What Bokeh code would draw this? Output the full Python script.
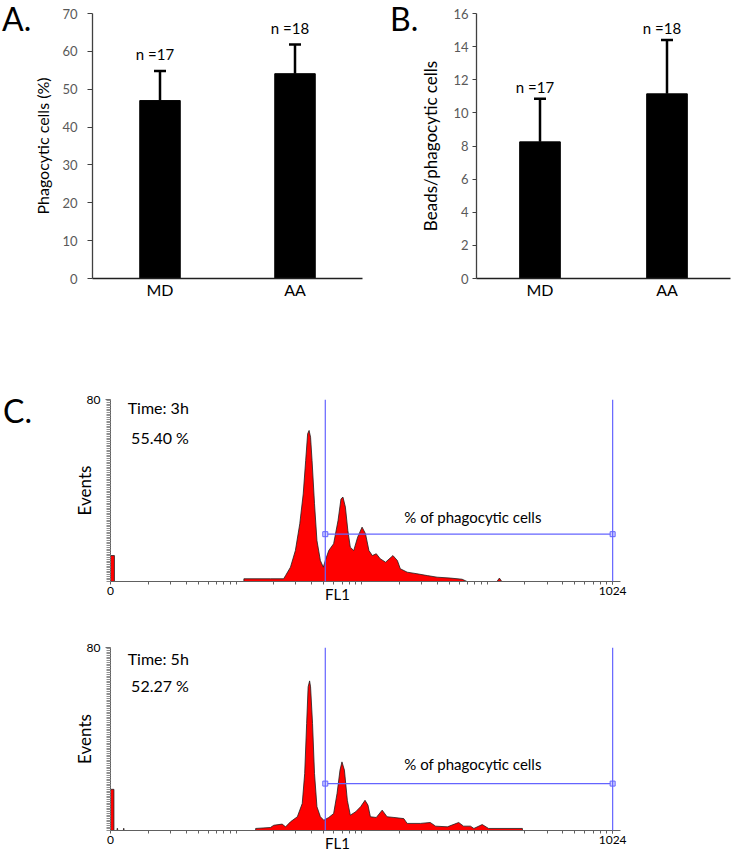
from bokeh.plotting import figure
from bokeh.models import ColumnDataSource, FactorRange, Range1d, FixedTicker, Span, LinearAxis, Div
from bokeh.layouts import column, row
from bokeh.embed import file_html
from bokeh.resources import INLINE
from bokeh.core.properties import value
import math

FONT = "Lato"
BLUE = "#6464ff"

# ---------------- data ----------------
groups = ["MD", "AA"]
n_labels = ["n =17", "n =18"]
phago_mean = [47.0, 54.1]
phago_sd = [7.8, 7.7]
beads_mean = [8.25, 11.15]
beads_sd = [2.6, 3.25]

# flow cytometry histograms (FL1 channel, events)
h1_ch = [0, 0, 8, 8, 272, 272, 326, 353, 357, 367, 377, 386, 393, 398, 402, 405, 408, 411, 416, 421,
         428, 434, 438, 445, 455, 464, 470, 474, 479, 484, 489, 496, 504, 513, 520, 527, 534, 542, 550, 561,
         576, 585, 591, 605, 625, 646, 666, 693, 717, 727, 788, 793, 798, 1024]
h1_ev = [0, 11.4, 11.4, 0, 0, 1.2, 1.2, 1.2, 2.6, 6.3, 13.6, 25.4, 38.5, 53.2, 64.9, 66.4, 63.4, 53.2, 34.2, 18,
         9.2, 6.3, 9.2, 13.6, 16.6, 26.8, 36.3, 37.1, 32.7, 22.4, 15.1, 13.6, 19.5, 23.9, 21, 13.6, 11.4, 12.2, 10, 8.5,
         11.4, 9.2, 5.6, 4.1, 3.4, 2.6, 1.9, 1.5, 1, 0, 0, 1.5, 0, 0]
h2_ch = [0, 0, 7, 7, 13, 14, 15, 26, 27, 28, 296, 296, 326, 333, 350, 357, 367, 381, 391, 396,
         400, 403, 406, 408, 412, 416, 421, 428, 435, 445, 455, 462, 468, 472, 477, 483, 489, 500, 510, 519,
         525, 530, 542, 554, 564, 578, 598, 605, 632, 652, 663, 687, 710, 720, 734, 741, 758, 771, 840, 840, 1024]
h2_ev = [0, 18, 18, 0, 0, 1, 0, 0, 1, 0, 0, 0.9, 1.3, 2.3, 2.8, 1.6, 3.8, 6, 11.8, 24.9,
         46.8, 62.8, 65.4, 62.8, 46.8, 24.9, 10.4, 6, 4.5, 5.7, 7.4, 16.2, 26.4, 30, 26.4, 13.2, 6.7, 8.2, 10.4, 13.2,
         11.1, 6, 5.7, 8.9, 6, 5.7, 5.2, 3.1, 3.1, 3.5, 1.9, 1.6, 3.5, 1.9, 1.9, 0.9, 2.6, 0.9, 0.9, 0, 0]
gate_lo = 438
gate_hi = 1024
gate_y = [20.8, 20.5]
time_txt = ["Time: 3h", "Time: 5h"]
pct_txt = ["55.40 %", "52.27 %"]
gate_txt = "% of phagocytic cells"
x_max = 1024
y_max_events = 80


def style_common(p):
    p.outline_line_color = None
    p.xgrid.visible = False
    p.ygrid.visible = False
    p.background_fill_color = "white"
    p.border_fill_color = "white"


def letter_div(width, height, letter, left, top):
    html = ('<div style="margin-left:%dpx;margin-top:%dpx;font-family:Lato;font-size:32px;'
            'line-height:1.2;color:black;white-space:nowrap">%s</div>' % (left, top, letter))
    return Div(text=html, width=width, height=height, margin=(0, 0, 0, 0))


def bar_panel(width, height, mb, ymax, ystep, mean, sd, ylabel,
              bar_w, ylab_fs, ylab_standoff, tick_standoff, tick_out, n_off):
    p = figure(width=width, height=height, x_range=FactorRange(*groups),
               y_range=Range1d(0, ymax), output_backend="svg", toolbar_location=None,
               min_border_left=mb[0], min_border_right=mb[1], min_border_top=mb[2],
               min_border_bottom=mb[3])
    style_common(p)
    up = [m + s for m, s in zip(mean, sd)]
    src = ColumnDataSource(dict(g=groups, m=mean, up=up, n=n_labels))
    p.vbar(x="g", top="m", width=bar_w, source=src, fill_color="black", line_color="black")
    p.segment(x0="g", y0="m", x1="g", y1="up", source=src, line_color="black", line_width=2.5)
    p.scatter(x="g", y="up", source=src, marker="dash", size=12, line_color="black", line_width=2.5)
    p.text(x="g", y="up", text="n", source=src, x_offset=-5, y_offset=n_off,
           text_align="center", text_baseline="middle",
           text_font=value(FONT), text_font_size="15px", text_color="black")
    xa = p.xaxis[0]
    xa.axis_line_color = "#202020"
    xa.axis_line_width = 1.3
    xa.major_tick_line_color = None
    xa.major_tick_out = 0
    xa.major_tick_in = 0
    xa.minor_tick_line_color = None
    xa.major_label_text_font = FONT
    xa.major_label_text_font_size = "16px"
    xa.major_label_text_color = "black"
    xa.major_label_standoff = 1
    ya = p.yaxis[0]
    ya.ticker = FixedTicker(ticks=list(range(0, ymax + 1, ystep)))
    ya.axis_line_color = "#404040"
    ya.axis_line_width = 1.3
    ya.major_tick_line_color = "#404040"
    ya.major_tick_out = tick_out
    ya.major_tick_in = 0
    ya.minor_tick_line_color = None
    ya.major_label_text_font = FONT
    ya.major_label_text_font_size = "13px"
    ya.major_label_text_color = "#595959"
    ya.major_label_standoff = tick_standoff
    ya.axis_label = ylabel
    ya.axis_label_text_font = FONT
    ya.axis_label_text_font_style = "normal"
    ya.axis_label_text_font_size = ylab_fs
    ya.axis_label_text_color = "black"
    ya.axis_label_standoff = ylab_standoff
    return p


letA = letter_div(30, 318, "A.", 2, 0)
pA = bar_panel(338, 318, (62, 6, 13, 40), 70, 10, phago_mean, phago_sd,
               "Phagocytic cells (%)", 0.30, "16px", 7, 10, 5, -17)
letB = letter_div(49, 318, "B.", 22, 0)
pB = bar_panel(316, 318, (56, 3, 13, 40), 16, 2, beads_mean, beads_sd,
               "Beads/phagocytic cells", 0.32, "17px", 9, 4, 4, -12)


log_minor = [d * 256 + math.log10(k) * 256 for d in range(4) for k in range(2, 11)]
y_minor = [i * 0.75 for i in range(int(y_max_events / 0.75) + 1)]


def hist_panel(width, height, mb, ch, ev, gy, ttxt, ptxt, t_y, p_y, g_y):
    p = figure(width=width, height=height, x_range=Range1d(0, 1040), y_range=Range1d(0, y_max_events),
               output_backend="svg", toolbar_location=None,
               min_border_left=mb[0], min_border_right=mb[1], min_border_top=mb[2],
               min_border_bottom=mb[3])
    style_common(p)
    p.varea(x=ch, y1=0, y2=ev, fill_color="#ff0000")
    p.line(x=ch, y=ev, line_color="#202020", line_width=0.8)
    for xv in (gate_lo, gate_hi):
        p.add_layout(Span(location=xv, dimension="height", line_color=BLUE, line_width=1.2))
    p.segment(x0=[gate_lo], y0=[gy], x1=[gate_hi], y1=[gy], line_color=BLUE, line_width=1.2)
    p.scatter(x=[gate_lo, gate_hi], y=[gy, gy], marker="square", size=5,
              line_color=BLUE, fill_color="#d4d4ff", line_width=1)
    p.text(x=[(gate_lo + gate_hi) / 2], y=[g_y], text=[gate_txt], x_offset=4,
           text_align="center", text_baseline="middle",
           text_font=value(FONT), text_font_size="15px", text_color="black")
    p.text(x=[35, 42], y=[t_y, p_y], text=[ttxt, ptxt], text_align="left", text_baseline="middle",
           text_font=value(FONT), text_font_size="16px", text_color="black")
    xa = p.xaxis[0]
    xa.ticker = FixedTicker(ticks=[0, x_max], minor_ticks=log_minor)
    xa.axis_line_color = "#606060"
    xa.major_tick_line_color = "#606060"
    xa.minor_tick_line_color = "#606060"
    xa.major_tick_out = 3
    xa.major_tick_in = 0
    xa.minor_tick_out = 3
    xa.minor_tick_in = 0
    xa.major_label_text_font = FONT
    xa.major_label_text_font_size = "12px"
    xa.major_label_text_color = "black"
    xa.major_label_standoff = 2
    # second (label-only) axis carrying the FL1 channel name
    fl = LinearAxis(ticker=FixedTicker(ticks=[463]), major_label_overrides={463: "FL1"})
    fl.axis_line_color = None
    fl.major_tick_line_color = None
    fl.minor_tick_line_color = None
    fl.major_tick_out = 0
    fl.major_tick_in = 0
    fl.major_label_standoff = -13
    fl.major_label_text_font = FONT
    fl.major_label_text_font_size = "15px"
    fl.major_label_text_color = "black"
    p.add_layout(fl, "below")
    ya = p.yaxis[0]
    ya.ticker = FixedTicker(ticks=[y_max_events], minor_ticks=y_minor)
    ya.axis_line_color = "#606060"
    ya.major_tick_line_color = "#707070"
    ya.minor_tick_line_color = "#909090"
    ya.major_tick_out = 5
    ya.major_tick_in = 0
    ya.minor_tick_out = 4
    ya.minor_tick_in = 0
    ya.major_label_text_font = FONT
    ya.major_label_text_font_size = "12px"
    ya.major_label_text_color = "black"
    ya.major_label_standoff = 5
    ya.axis_label = "Events"
    ya.axis_label_text_font = FONT
    ya.axis_label_text_font_style = "normal"
    ya.axis_label_text_font_size = "17px"
    ya.axis_label_text_color = "black"
    ya.axis_label_standoff = -11
    return p


letC = letter_div(32, 300, "C.", 3, 74)
h1 = hist_panel(701, 300, (78, 113, 81, 37), h1_ch, h1_ev, gate_y[0], time_txt[0], pct_txt[0], 76.5, 63.3, 28.5)
h2 = hist_panel(733, 237, (110, 113, 29, 25), h2_ch, h2_ev, gate_y[1], time_txt[1], pct_txt[1], 75.4, 63.5, 29)

layout = column(row(letA, pA, letB, pB), row(letC, h1), h2)
open("out.html", "w").write(file_html(layout, INLINE))
